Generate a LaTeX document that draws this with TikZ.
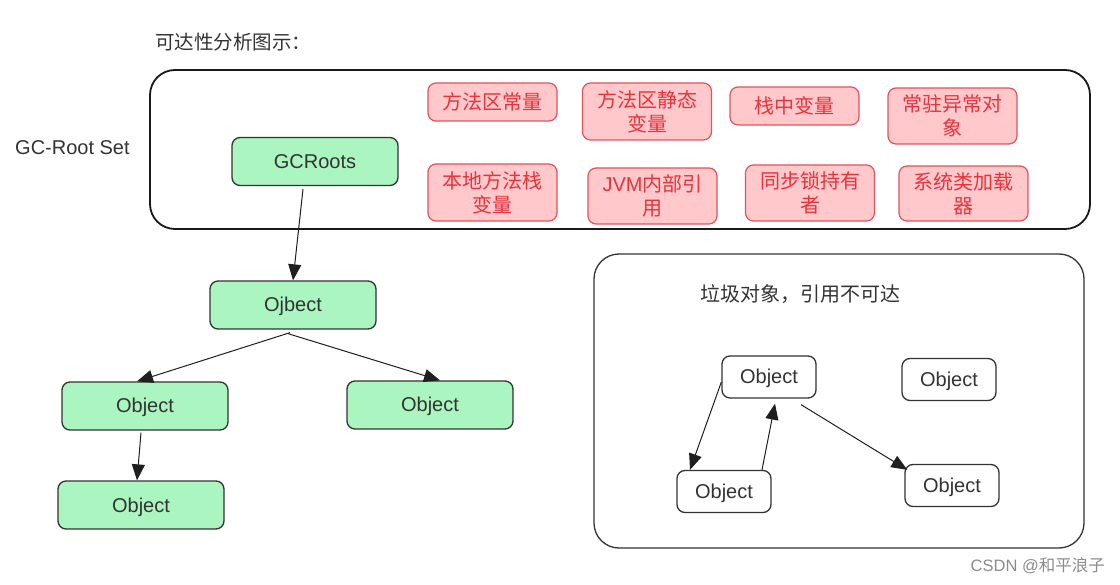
\documentclass[tikz,border=0pt]{standalone}
\usepackage{fontspec}
\setmainfont{Liberation Sans}
\newfontfamily\cjk{Noto Sans CJK SC}
\usetikzlibrary{arrows.meta}
\definecolor{txt}{HTML}{333333}
\definecolor{gfill}{HTML}{ABF5C0}
\definecolor{rfill}{HTML}{FFC8CA}
\definecolor{rdraw}{HTML}{E0545C}
\definecolor{rtext}{HTML}{E8323C}
\tikzset{
  gbox/.style={draw=txt, line width=1.3pt, fill=gfill, rounded corners=8pt, minimum width=166pt, minimum height=48pt, text=txt, text height=14pt, text depth=0pt, font=\fontsize{20}{24}\selectfont},
  rbox/.style={draw=rdraw, line width=1.2pt, fill=rfill, rounded corners=8pt, minimum width=129pt, text=rtext, align=center, inner sep=2pt, font=\cjk\fontsize{20}{24}\selectfont},
  wbox/.style={draw=txt, line width=1.3pt, fill=white, rounded corners=8pt, minimum width=94pt, minimum height=42pt, text=txt, text height=14pt, text depth=0pt, font=\fontsize{20}{24}\selectfont},
  arr/.style={-{Triangle[length=16pt,width=13pt]}, line width=1pt, draw=black!88},
  lbl/.style={text=txt, inner sep=0pt, anchor=west}
}
\begin{document}
\begin{tikzpicture}[x=1pt,y=-1pt]
\useasboundingbox[fill=white] (0,0) rectangle (1120,585);
% title and labels
\node[lbl, font=\cjk\fontsize{19.5}{23}\selectfont] (title) at (155,42) {可达性分析图示：};
\node[lbl, font=\fontsize{20}{24}\selectfont] (gcset) at (15,148) {GC-Root Set};
% big containers
\draw[line width=1.8pt, draw=black!90, rounded corners=25pt] (150,70) rectangle (1090,229);
\draw[line width=1.3pt, draw=txt, rounded corners=25pt] (594,254) rectangle (1084,548);
\node[lbl, font=\cjk\fontsize{20}{24}\selectfont] (gtitle) at (700,294) {垃圾对象，引用不可达};
% root set boxes
\node[rbox, minimum height=38pt] (r1) at (492.5,102) {方法区常量};
\node[rbox, minimum height=57pt] (r2) at (647,111.5) {方法区静态\\变量};
\node[rbox, minimum height=38pt] (r3) at (794.5,106) {栈中变量};
\node[rbox, minimum height=56pt] (r4) at (952.5,116) {常驻异常对\\象};
\node[rbox, minimum height=57pt] (r5) at (492.5,192.5) {本地方法栈\\变量};
\node[rbox, minimum height=56pt] (r6) at (652.5,196) {{\fontspec{Liberation Sans}JVM}内部引\\用};
\node[rbox, minimum height=56pt] (r7) at (810,193) {同步锁持有\\者};
\node[rbox, minimum height=55pt] (r8) at (963.5,193.5) {系统类加载\\器};
% green objects
\node[gbox] (gcr) at (315,161.5) {GCRoots};
\node[gbox] (obj) at (293,305) {Ojbect};
\node[gbox] (l1) at (145,406) {Object};
\node[gbox] (rr) at (430,405) {Object};
\node[gbox] (ll) at (141,505) {Object};
% garbage objects
\node[wbox] (A) at (769,377) {Object};
\node[wbox] (B) at (949,379.5) {Object};
\node[wbox] (C) at (724,491.5) {Object};
\node[wbox] (D) at (952,485.5) {Object};
% arrows
\draw[arr] ([xshift=-12pt,yshift=-3pt]gcr.south) -- (obj.north);
\draw[arr] ([xshift=-3pt,yshift=-3pt]obj.south) -- ([xshift=-8pt]l1.north);
\draw[arr] ([xshift=-5pt,yshift=-4pt]obj.south) -- ([xshift=10pt]rr.north);
\draw[arr] ([xshift=-4pt,yshift=-2pt]l1.south) -- ([xshift=-4pt]ll.north);
\draw[arr] ([yshift=-5pt]A.west) -- ([xshift=-34pt]C.north);
\draw[arr] ([xshift=38pt]C.north) -- ([xshift=6pt,yshift=-5pt]A.south);
\draw[arr] ([xshift=32pt,yshift=-6pt]A.south) -- ([xshift=3pt,yshift=-6pt]D.north west);
% watermark
\node[anchor=east, inner sep=0pt, text=black!45, font=\fontsize{16.5}{19}\selectfont] (wm) at (1105,566) {CSDN @{\cjk 和平浪子}};
\end{tikzpicture}
\end{document}
